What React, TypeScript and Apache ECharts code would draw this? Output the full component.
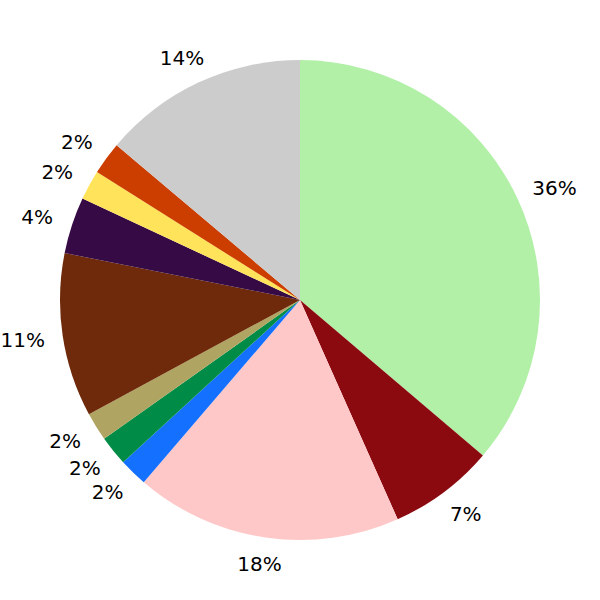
import React, { useEffect, useRef } from "react";
import * as echarts from "echarts";

const categories = ["A", "B", "C", "D", "E", "F", "G", "H", "I", "J", "K"];
const values = [36.1, 7.1, 17.9, 1.9, 2.0, 1.9, 11.0, 3.8, 2.0, 2.2, 13.8];
const colors = [
  "#b2f0a8",
  "#8b0a10",
  "#ffc8c8",
  "#1470ff",
  "#008c46",
  "#b0a462",
  "#6e2a0a",
  "#350a45",
  "#ffe35a",
  "#cc3d00",
  "#cccccc",
];

const FONT_SIZE = 20;
const FONT_FAMILY = "DejaVu Sans";

function measure(text: string): number {
  const c = document.createElement("canvas").getContext("2d");
  if (!c) return text.length * FONT_SIZE * 0.64;
  c.font = `${FONT_SIZE}px "${FONT_FAMILY}"`;
  return c.measureText(text).width;
}

export default function App() {
  const ref = useRef<HTMLDivElement>(null);
  useEffect(() => {
    if (!ref.current) return;
    const chart = echarts.init(ref.current, undefined, { renderer: "svg" });
    const total = values.reduce((a, b) => a + b, 0);
    let acc = 0;
    const labelData = categories.map((name, i) => {
      const pct = (values[i] / total) * 100;
      const text = `${Math.round(pct)}%`;
      const mid = ((acc + values[i] / 2) / total) * Math.PI * 2;
      acc += values[i];
      const sx = Math.sin(mid);
      const halfW = measure(text) / 2;
      const dx = 0.6 * halfW * sx;
      const padding = [0, dx < 0 ? -2 * dx : 0, 0, dx > 0 ? 2 * dx : 0];
      return {
        name,
        value: values[i],
        label: { padding, formatter: text },
      };
    });
    chart.setOption({
      animation: false,
      backgroundColor: "#ffffff",
      series: [
        {
          type: "pie",
          center: [300, 300],
          radius: [0, 240],
          startAngle: 90,
          clockwise: true,
          silent: true,
          label: { show: false },
          labelLine: { show: false },
          itemStyle: { borderWidth: 0 },
          data: categories.map((name, i) => ({
            name,
            value: values[i],
            itemStyle: { color: colors[i] },
          })),
        },
        {
          type: "pie",
          center: [300, 300],
          radius: [263, 265],
          startAngle: 90,
          clockwise: true,
          silent: true,
          avoidLabelOverlap: false,
          labelLayout: { hideOverlap: false },
          itemStyle: { color: "rgba(0,0,0,0)", borderWidth: 0 },
          label: {
            show: true,
            position: "inside",
            color: "#000000",
            fontSize: FONT_SIZE,
            fontFamily: FONT_FAMILY,
          },
          labelLine: { show: false },
          data: labelData,
        },
      ],
    });
    return () => chart.dispose();
  }, []);
  return (
    <div
      ref={ref}
      style={{ position: "fixed", left: 0, top: 0, width: 600, height: 600 }}
    />
  );
}
